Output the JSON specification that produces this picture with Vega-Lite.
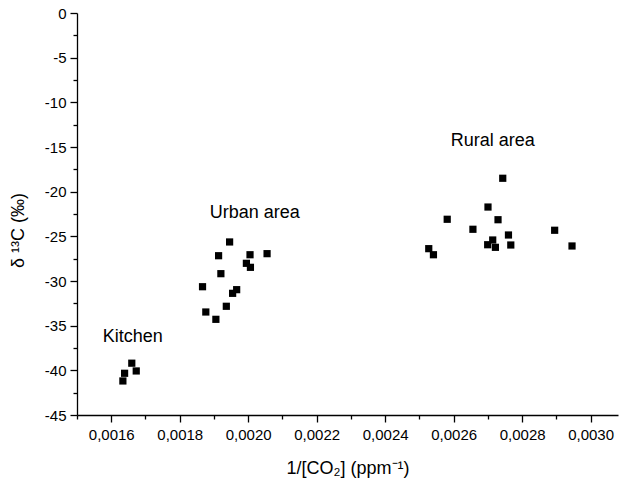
{
  "$schema": "https://vega.github.io/schema/vega-lite/v6.json",
  "autosize": "none",
  "padding": {"left": 77, "top": 13, "right": 1, "bottom": 73},
  "width": 541,
  "height": 402,
  "background": "white",
  "config": {
    "view": {"stroke": null},
    "font": "Liberation Sans",
    "axis": {
      "grid": false,
      "domainColor": "black",
      "domainWidth": 1.3,
      "tickColor": "black",
      "tickWidth": 1.3,
      "labelColor": "black",
      "titleColor": "black",
      "labelFont": "Liberation Sans",
      "titleFont": "Liberation Sans",
      "labelFontSize": 15,
      "titleFontSize": 18,
      "titleFontWeight": "normal"
    }
  },
  "datasets": {
    "points": [
      {"group": "Kitchen", "x": 0.001660, "y": -39.2},
      {"group": "Kitchen", "x": 0.001673, "y": -40.07},
      {"group": "Kitchen", "x": 0.001639, "y": -40.33},
      {"group": "Kitchen", "x": 0.001634, "y": -41.19},
      {"group": "Urban", "x": 0.0019457, "y": -25.63},
      {"group": "Urban", "x": 0.0019135, "y": -27.17},
      {"group": "Urban", "x": 0.0020053, "y": -27.06},
      {"group": "Urban", "x": 0.0020551, "y": -26.94},
      {"group": "Urban", "x": 0.0019947, "y": -28.02},
      {"group": "Urban", "x": 0.0020065, "y": -28.47},
      {"group": "Urban", "x": 0.0019202, "y": -29.18},
      {"group": "Urban", "x": 0.0018666, "y": -30.64},
      {"group": "Urban", "x": 0.0019663, "y": -30.97},
      {"group": "Urban", "x": 0.0019545, "y": -31.38},
      {"group": "Urban", "x": 0.0019361, "y": -32.83},
      {"group": "Urban", "x": 0.0018762, "y": -33.47},
      {"group": "Urban", "x": 0.0019056, "y": -34.29},
      {"group": "Rural", "x": 0.0027434, "y": -18.5},
      {"group": "Rural", "x": 0.0027003, "y": -21.72},
      {"group": "Rural", "x": 0.0025812, "y": -23.09},
      {"group": "Rural", "x": 0.0027296, "y": -23.14},
      {"group": "Rural", "x": 0.0026563, "y": -24.21},
      {"group": "Rural", "x": 0.002895, "y": -24.32},
      {"group": "Rural", "x": 0.0027601, "y": -24.85},
      {"group": "Rural", "x": 0.0027141, "y": -25.41},
      {"group": "Rural", "x": 0.0026994, "y": -25.94},
      {"group": "Rural", "x": 0.002722, "y": -26.23},
      {"group": "Rural", "x": 0.0027669, "y": -25.97},
      {"group": "Rural", "x": 0.0029457, "y": -26.08},
      {"group": "Rural", "x": 0.0025273, "y": -26.38},
      {"group": "Rural", "x": 0.002541, "y": -27.06}
    ],
    "labels": [
      {"label": "Kitchen", "x": 0.0016628, "y": -36.27},
      {"label": "Urban area", "x": 0.0020191, "y": -22.39},
      {"label": "Rural area", "x": 0.002714, "y": -14.33}
    ]
  },
  "layer": [
    {
      "data": {"name": "points"},
      "mark": {"type": "point", "shape": "square", "filled": true, "color": "black", "opacity": 1, "size": 52},
      "encoding": {
        "x": {
          "field": "x", "type": "quantitative",
          "scale": {"domain": [0.0015, 0.00308], "nice": false, "zero": false},
          "axis": {
            "title": "1/[CO₂] (ppm⁻¹)",
            "values": [0.0015, 0.0016, 0.0017, 0.0018, 0.0019, 0.002, 0.0021, 0.0022, 0.0023, 0.0024, 0.0025, 0.0026, 0.0027, 0.0028, 0.0029, 0.003],
            "tickCount": 100,
            "labelExpr": "(datum.value * 10000 + 0.5) % 2 < 1 ? replace(format(datum.value, '.4f'), '.', ',') : ''",
            "tickSize": {"condition": {"test": "(datum.value * 10000 + 0.5) % 2 < 1", "value": 7}, "value": 4},
            "labelPadding": 5,
            "titlePadding": 17,
            "labelOverlap": false,
            "labelFlush": false
          }
        },
        "y": {
          "field": "y", "type": "quantitative",
          "scale": {"domain": [-45, 0], "nice": false, "zero": false},
          "axis": {
            "title": "δ ¹³C (‰)",
            "values": [-45, -42.5, -40, -37.5, -35, -32.5, -30, -27.5, -25, -22.5, -20, -17.5, -15, -12.5, -10, -7.5, -5, -2.5, 0],
            "tickCount": 100,
            "labelExpr": "datum.value % 5 === 0 ? '' + datum.value : ''",
            "tickSize": {"condition": {"test": "datum.value % 5 === 0", "value": 7}, "value": 4},
            "labelPadding": 4,
            "titlePadding": 17,
            "titleY": 217,
            "labelOverlap": false,
            "labelFlush": false
          }
        }
      }
    },
    {
      "data": {"name": "labels"},
      "mark": {"type": "text", "fontSize": 18, "font": "Liberation Sans", "color": "black", "align": "center", "baseline": "middle"},
      "encoding": {
        "x": {"field": "x", "type": "quantitative"},
        "y": {"field": "y", "type": "quantitative"},
        "text": {"field": "label"}
      }
    }
  ]
}
